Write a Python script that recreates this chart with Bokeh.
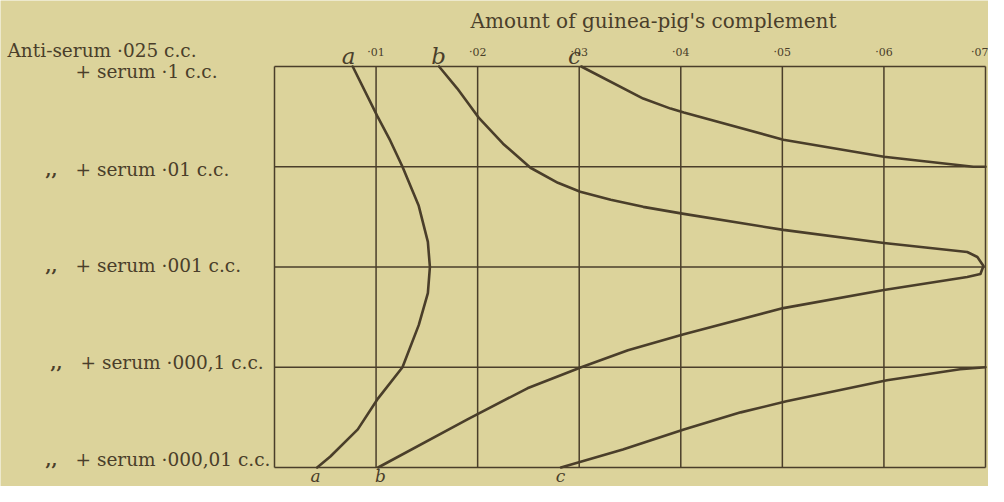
from bokeh.plotting import figure
from bokeh.models import Range1d, ColumnDataSource
from bokeh.core.properties import value
from bokeh.embed import file_html
from bokeh.resources import INLINE

# ---------------- data ----------------
title_text = "Amount of guinea-pig's complement"
col_ticks = [0.01, 0.02, 0.03, 0.04, 0.05, 0.06, 0.07]
col_labels = ["·01", "·02", "·03", "·04", "·05", "·06", "·07"]
rows = [0, 1, 2, 3, 4]
header_label = "Anti-serum ·025 c.c."
row_labels = ["+ serum ·1 c.c.", "+ serum ·01 c.c.", "+ serum ·001 c.c.",
              "+ serum ·000,1 c.c.", "+ serum ·000,01 c.c."]
ditto = ",,"
curve_names = ["a", "b", "c"]

a_x = [0.0077, 0.0101, 0.0114, 0.0126, 0.0142, 0.0151, 0.0153, 0.0151,
       0.0142, 0.0126, 0.0102, 0.0082, 0.0055, 0.0042]
a_y = [0.0, 0.49, 0.74, 1.0, 1.39, 1.75, 2.0, 2.26, 2.58, 3.0, 3.31, 3.62,
       3.89, 4.0]

b_x = [0.0162, 0.0180, 0.0193, 0.0201, 0.0225, 0.0252, 0.0279, 0.0301,
       0.0331, 0.0363, 0.0403, 0.0501, 0.0600, 0.0682, 0.0692, 0.0698,
       0.0695, 0.0682, 0.0600, 0.0501, 0.0403, 0.0348, 0.0302, 0.0249,
       0.0190, 0.0102]
b_y = [0.0, 0.22, 0.40, 0.51, 0.77, 1.01, 1.16, 1.25, 1.33, 1.40, 1.47,
       1.63, 1.76, 1.85, 1.90, 1.99, 2.07, 2.10, 2.23, 2.41, 2.67, 2.83, 3.0,
       3.21, 3.52, 4.0]

c_top_x = [0.0302, 0.0363, 0.0390, 0.0403, 0.0501, 0.0600, 0.0688, 0.0700]
c_top_y = [0.0, 0.32, 0.42, 0.46, 0.73, 0.90, 1.0, 1.0]

c_bot_x = [0.0282, 0.0343, 0.0403, 0.0459, 0.0504, 0.0603, 0.0675, 0.0700]
c_bot_y = [4.0, 3.82, 3.62, 3.45, 3.34, 3.13, 3.02, 3.0]

# ---------------- layout / style ----------------
BG = "#DCD39B"
INK = "#4A3E2A"
SERIF = "DejaVu Serif"
W, H = 988, 486
FX0, FX1 = 274, 985       # chart box, left/right pixel
FY0, FY1 = 66, 467        # chart box, top/bottom pixel
XPX = col_ticks[-1] / (FX1 - FX0)
YPX = rows[-1] / (FY1 - FY0)


def dx(px):
    return (px - FX0) * XPX


def dy(py):
    return (py - FY0) * YPX


p = figure(width=W, height=H,
           x_range=Range1d(dx(0), dx(W)), y_range=Range1d(dy(H), dy(0)),
           output_backend="svg", toolbar_location=None,
           x_axis_location=None, y_axis_location=None,
           min_border=0, min_border_left=0, min_border_right=0,
           min_border_top=0, min_border_bottom=0)
p.background_fill_color = BG
p.border_fill_color = BG
p.outline_line_color = None
p.grid.visible = False

# ruled chart box
vx = [0.0] + col_ticks
p.segment(x0=vx, y0=[rows[0]] * len(vx), x1=vx, y1=[rows[-1]] * len(vx),
          line_color=INK, line_width=1.5)
p.segment(x0=[0.0] * len(rows), y0=rows, x1=[col_ticks[-1]] * len(rows),
          y1=rows, line_color=INK, line_width=1.5)

# curves
for xs, ys in [(a_x, a_y), (b_x, b_y), (c_top_x, c_top_y), (c_bot_x, c_bot_y)]:
    p.line(xs, ys, line_color=INK, line_width=2.6, line_join="round",
           line_cap="round")

# column labels along the top
tick_src = ColumnDataSource(dict(
    x=col_ticks, y=[dy(52)] * len(col_ticks), text=col_labels,
    align=["center"] * (len(col_ticks) - 1) + ["right"],
    xoff=[0] * (len(col_ticks) - 1) + [3]))
p.text(x="x", y="y", text="text", source=tick_src, text_align="align",
       x_offset="xoff", text_baseline="middle", text_font=value(SERIF),
       text_font_size="11px", text_color=INK)

# title
p.text(x=[dx(653)], y=[dy(20)], text=[title_text], text_align="center",
       text_baseline="middle", text_font=value(SERIF), text_font_size="20px",
       text_color=INK)

# row labels on the left
p.text(x=[dx(7)], y=[dy(50)], text=[header_label], text_align="left",
       text_baseline="middle", text_font=value(SERIF), text_font_size="18.5px",
       text_color=INK)
row_py = [71, 169, 265, 362, 459]
plus_px = [75, 75, 75, 80, 75]
p.text(x=[dx(v) for v in plus_px], y=[dy(v) for v in row_py], text=row_labels,
       text_align="left", text_baseline="middle", text_font=value(SERIF),
       text_font_size="18.5px", text_color=INK)
ditto_px = [45, 45, 50, 45]
p.text(x=[dx(v) for v in ditto_px], y=[dy(v) for v in row_py[1:]],
       text=[ditto] * 4, text_align="left", text_baseline="middle",
       text_font=value(SERIF), text_font_size="17px", text_font_style="bold",
       text_color=INK)

# curve letters
p.text(x=[dx(348), dx(438), dx(574)], y=[dy(55)] * 3, text=curve_names,
       text_align="center", text_baseline="middle",
       text_font=value(SERIF), text_font_style="italic",
       text_font_size="23px", text_color=INK)
p.text(x=[dx(315), dx(380), dx(560)], y=[dy(475), dy(475.5), dy(475)],
       text=curve_names, text_align="center", text_baseline="middle",
       text_font=value(SERIF), text_font_style="italic",
       text_font_size="17px", text_color=INK)

open("out.html", "w").write(file_html(p, INLINE))
